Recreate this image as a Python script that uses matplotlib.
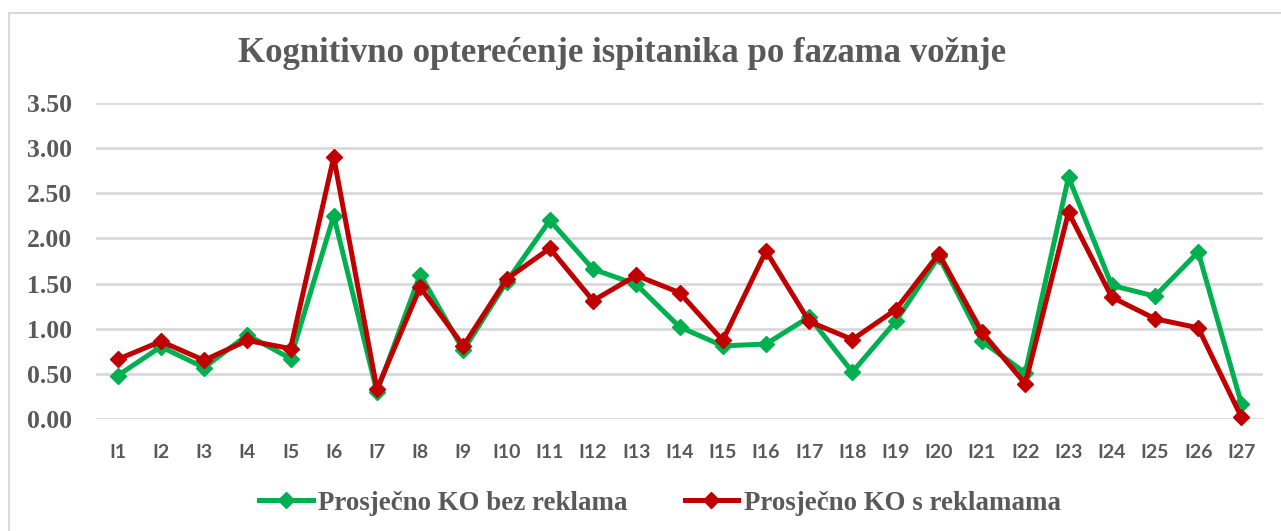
import matplotlib
matplotlib.use("Agg")
import matplotlib.pyplot as plt
from matplotlib.lines import Line2D

# data
phases = ["I" + str(i) for i in range(1, 28)]
ko_without_ads = [0.48, 0.80, 0.57, 0.93, 0.67, 2.25, 0.30, 1.60, 0.76, 1.52,
                  2.20, 1.66, 1.49, 1.02, 0.81, 0.83, 1.13, 0.52, 1.08, 1.80,
                  0.86, 0.51, 2.68, 1.48, 1.36, 1.85, 0.17]
ko_with_ads = [0.66, 0.86, 0.65, 0.87, 0.78, 2.90, 0.33, 1.46, 0.81, 1.55,
               1.89, 1.31, 1.59, 1.40, 0.87, 1.86, 1.08, 0.88, 1.21, 1.83,
               0.96, 0.39, 2.29, 1.35, 1.11, 1.01, 0.02]
yticks = [0.0, 0.5, 1.0, 1.5, 2.0, 2.5, 3.0, 3.5]

GREEN = "#00B050"
RED = "#C00000"
GREY = "#595959"
GRID = "#D9D9D9"

W, H = 1281, 531
fig = plt.figure(figsize=(W / 100, H / 100), dpi=100)
ax = fig.add_axes([96 / W, 1 - 419 / H, (1263 - 96) / W, (419 - 103) / H])

x = list(range(len(phases)))
ax.plot(x, ko_without_ads, color=GREEN, lw=3.6, marker="D", markersize=8,
        label="Prosječno KO bez reklama", clip_on=False, zorder=3)
ax.plot(x, ko_with_ads, color=RED, lw=3.6, marker="D", markersize=8,
        label="Prosječno KO s reklamama", clip_on=False, zorder=4)

ax.set_xlim(-0.5, len(phases) - 0.5)
ax.set_ylim(0, 3.5)
ax.set_yticks(yticks)
ax.set_yticklabels(["%.2f" % v for v in yticks], family="Liberation Serif",
                   fontweight="bold", fontsize=18.5, color=GREY)
ax.set_xticks(x)
ax.set_xticklabels(phases, family="Lato", fontweight="bold", fontsize=14, color=GREY)
ax.tick_params(axis="both", length=0)
ax.tick_params(axis="y", pad=17)
ax.tick_params(axis="x", pad=18)
ax.grid(axis="y", color=GRID, lw=2)
ax.set_axisbelow(True)
for s in ax.spines.values():
    s.set_visible(False)

fig.text(622 / W, 1 - 53 / H, "Kognitivno opterećenje ispitanika po fazama vožnje",
         ha="center", va="center", family="Liberation Serif", fontweight="bold",
         fontsize=25, color=GREY)

leg = fig.legend(loc="center", bbox_to_anchor=(660 / W, 1 - 503 / H), ncol=2,
                 frameon=False, handlelength=2.0, handletextpad=0.2,
                 columnspacing=2.1,
                 prop={"family": "Liberation Serif", "weight": "bold", "size": 19.4})
for t in leg.get_texts():
    t.set_color(GREY)

# outer chart border (left and top only visible in the reference)
fig.add_artist(Line2D([9 / W, 9 / W], [0, 1 - 13 / H], color=GRID, lw=1.5))
fig.add_artist(Line2D([9 / W, 1], [1 - 13 / H, 1 - 13 / H], color=GRID, lw=1.5))

fig.savefig("out.png", dpi=100)
